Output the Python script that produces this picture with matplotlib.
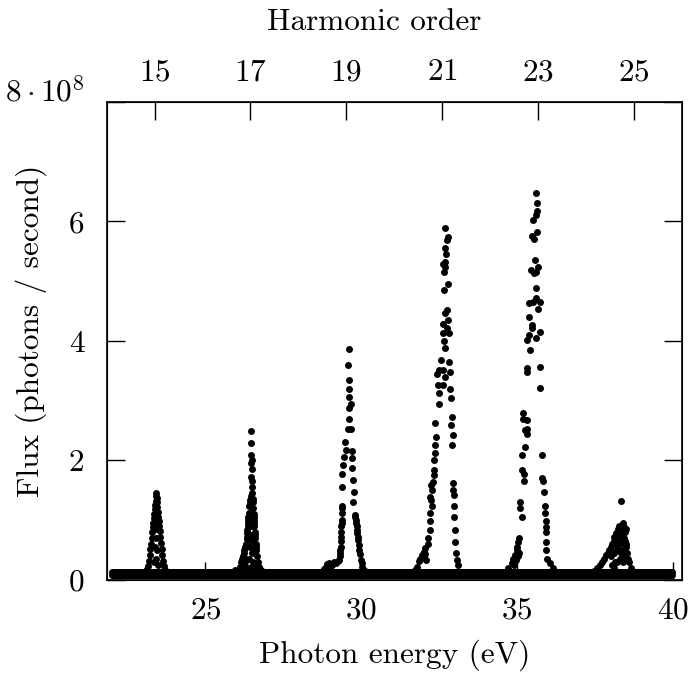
import matplotlib.pyplot as plt
import numpy as np

plt.rcParams["font.family"] = "serif"
plt.rcParams["font.serif"] = ["cmr10"]
plt.rcParams["mathtext.fontset"] = "cm"
plt.rcParams["axes.formatter.use_mathtext"] = True

# photon energy (eV) and flux (units of 1e8 photons / second)
baseline_levels = [0.08, 0.14]
baseline_e = np.arange(22.0, 40.0, 0.025)

h15_e = [23.00, 23.05, 23.10, 23.13, 23.16, 23.19, 23.21, 23.23, 23.25, 23.27,
         23.29, 23.31, 23.32, 23.34, 23.35, 23.37, 23.38, 23.40, 23.41, 23.42,
         23.44, 23.45, 23.46, 23.48, 23.49, 23.50, 23.52, 23.53, 23.55, 23.57,
         23.59, 23.61, 23.63, 23.66, 23.70, 23.75, 23.80,
         23.40, 23.42, 23.44, 23.40, 23.38, 23.46, 23.42, 23.36, 23.48]
h15_f = [0.12, 0.13, 0.15, 0.18, 0.24, 0.32, 0.42, 0.52, 0.60, 0.70,
         0.80, 0.88, 0.96, 1.03, 1.10, 1.18, 1.25, 1.33, 1.40, 1.45,
         1.38, 1.30, 1.22, 1.14, 1.06, 0.98, 0.90, 0.82, 0.72, 0.62,
         0.52, 0.42, 0.32, 0.24, 0.17, 0.13, 0.12,
         1.10, 0.95, 0.85, 0.70, 0.55, 0.50, 0.35, 0.30, 0.25]

h17_e = [26.46, 26.46, 26.47, 26.48, 26.46, 26.49, 26.47, 26.50, 26.48, 26.50,
         26.46, 26.42, 26.52, 26.40, 26.53, 26.44, 26.51,
         26.38, 26.37, 26.36, 26.355, 26.35, 26.345, 26.34, 26.335, 26.33, 26.31,
         26.28, 26.25, 26.22, 26.20, 26.16, 26.14, 26.10, 26.05, 25.98, 25.95, 25.90,
         26.55, 26.555, 26.56, 26.565, 26.57, 26.58, 26.59, 26.60, 26.61, 26.62,
         26.63, 26.65, 26.68, 26.72, 26.78, 26.85, 26.94,
         26.45, 26.47, 26.45, 26.50, 26.42, 26.48, 26.40, 26.52, 26.45, 26.50,
         26.30, 26.27, 26.23, 26.19, 26.40, 26.55, 26.66, 26.70]
h17_f = [2.49, 2.30, 2.09, 2.01, 1.95, 1.85, 1.73, 1.65, 1.55, 1.45,
         1.40, 1.34, 1.30, 1.23, 1.20, 1.28, 1.36,
         1.12, 1.05, 1.00, 0.95, 0.90, 0.84, 0.78, 0.72, 0.68, 0.60,
         0.55, 0.50, 0.45, 0.40, 0.35, 0.30, 0.22, 0.15, 0.13, 0.17, 0.12,
         1.10, 1.05, 1.00, 0.95, 0.90, 0.80, 0.75, 0.70, 0.60, 0.55,
         0.50, 0.40, 0.30, 0.22, 0.16, 0.13, 0.12,
         1.00, 0.90, 0.75, 0.65, 0.55, 0.45, 0.35, 0.30, 0.22, 0.18,
         0.35, 0.30, 0.25, 0.20, 0.20, 0.25, 0.22, 0.18]

h19_e = [29.60, 29.58, 29.60, 29.62, 29.60, 29.66, 29.60, 29.60, 29.66, 29.58,
         29.48, 29.50, 29.44, 29.71, 29.69, 29.41, 29.71, 29.39, 29.73, 29.39,
         29.77, 29.73, 29.39, 29.39, 29.37, 29.36, 29.36, 29.34, 29.31, 29.29,
         29.20, 29.07, 28.96, 28.86, 28.80, 28.75, 28.90, 29.00, 29.12,
         29.38, 29.37, 29.36, 29.35, 29.33, 29.30, 29.25,
         29.79, 29.84, 29.85, 29.87, 29.90, 29.94, 29.99, 30.03, 30.14,
         29.80, 29.83, 29.86, 29.88, 29.92, 29.96, 30.01, 30.08]
h19_f = [3.87, 3.60, 3.34, 3.20, 3.06, 2.95, 2.87, 2.70, 2.53, 2.53,
         2.31, 2.17, 2.06, 2.15, 2.04, 1.93, 1.87, 1.78, 1.67, 1.56,
         1.48, 1.31, 1.23, 1.20, 1.01, 0.90, 0.81, 0.56, 0.45, 0.34,
         0.28, 0.25, 0.28, 0.22, 0.18, 0.13, 0.26, 0.20, 0.30,
         1.12, 0.95, 0.72, 0.65, 0.50, 0.40, 0.32,
         1.09, 1.01, 0.90, 0.78, 0.67, 0.51, 0.34, 0.22, 0.14,
         1.05, 0.96, 0.84, 0.72, 0.59, 0.43, 0.28, 0.17]

h21_e = [32.69, 32.78, 32.74, 32.69, 32.72, 32.67, 32.62, 32.69, 32.64, 32.78,
         32.66, 32.74, 32.69, 32.78, 32.61, 32.74, 32.61, 32.64, 32.80, 32.69,
         32.56, 32.82, 32.48, 32.61, 32.85, 32.42, 32.69, 32.46, 32.61, 32.85,
         32.48, 32.88, 32.50, 32.37, 32.90, 32.88, 32.93, 32.39, 32.90, 32.37,
         32.35, 32.32, 32.32, 32.33, 32.29, 32.25, 32.27, 32.21, 32.25, 32.27,
         32.21, 32.21, 32.19, 32.14, 32.14, 32.05, 32.00, 31.95, 31.89, 31.84,
         31.79, 31.73, 32.02, 32.04, 32.06, 31.98,
         32.93, 32.93, 32.96, 32.96, 32.98, 33.01, 33.01, 33.04, 33.06, 33.09, 33.17]
h21_f = [5.88, 5.74, 5.68, 5.55, 5.46, 5.32, 5.28, 5.24, 5.15, 4.95,
         4.85, 4.51, 4.46, 4.35, 4.29, 4.21, 4.13, 3.99, 4.13, 3.88,
         3.68, 3.65, 3.51, 3.51, 3.48, 3.45, 3.40, 3.26, 3.26, 3.20,
         3.12, 3.04, 2.95, 2.62, 2.73, 2.59, 2.42, 2.39, 2.26, 2.26,
         2.12, 2.01, 1.84, 1.76, 1.64, 1.59, 1.50, 1.39, 1.34, 1.23,
         1.12, 0.98, 0.84, 0.70, 0.61, 0.53, 0.47, 0.42, 0.36, 0.31,
         0.22, 0.17, 0.38, 0.44, 0.34, 0.40,
         1.62, 1.50, 1.42, 1.23, 1.06, 0.84, 0.64, 0.45, 0.34, 0.25, 0.14]

h23_e = [35.62, 35.65, 35.63, 35.62, 35.51, 35.65, 35.49, 35.55, 35.57, 35.44,
         35.67, 35.62, 35.55, 35.60, 35.62, 35.39, 35.51, 35.73, 35.67, 35.39,
         35.49, 35.46, 35.73, 35.39, 35.33, 35.62, 35.42, 35.30, 35.33, 35.73,
         35.74, 35.19, 35.19, 35.30, 35.30, 35.25, 35.30, 35.25, 35.14, 35.80,
         35.14, 35.21, 35.80, 35.83, 35.23, 35.87, 35.09, 35.09, 35.14,
         35.89, 35.89, 35.91, 35.91, 35.91, 35.94, 35.94, 35.97, 36.05, 36.15,
         35.03, 34.98, 34.93, 34.87, 34.82, 34.72, 34.61,
         35.00, 35.05, 35.02, 34.95, 35.06, 34.90]
h23_f = [6.48, 6.31, 6.18, 6.10, 6.02, 5.82, 5.75, 5.71, 5.36, 5.18,
         5.24, 5.15, 5.13, 4.88, 4.71, 4.63, 4.65, 4.65, 4.54, 4.40,
         4.26, 4.21, 4.15, 4.10, 4.01, 4.04, 3.85, 3.54, 3.48, 3.57,
         3.21, 2.79, 2.70, 2.68, 2.53, 2.51, 2.45, 2.23, 2.09, 2.09,
         1.84, 1.78, 1.70, 1.65, 1.65, 1.48, 1.31, 1.20, 1.06,
         1.23, 1.12, 0.98, 0.89, 0.81, 0.64, 0.50, 0.36, 0.28, 0.20,
         0.64, 0.50, 0.42, 0.36, 0.28, 0.20, 0.14,
         0.55, 0.70, 0.40, 0.33, 0.45, 0.25]

h25_e = [37.45, 37.55, 37.65, 37.72, 37.80, 37.85, 37.90, 37.95, 38.00, 38.05,
         38.10, 38.12, 38.15, 38.18, 38.20, 38.22, 38.25, 38.28, 38.30, 38.32,
         38.34, 38.35, 38.38, 38.40, 38.42, 38.45, 38.48, 38.50, 38.52, 38.55,
         38.60, 38.65, 38.70, 38.80,
         38.00, 38.10, 38.20, 38.30, 38.40, 38.20, 38.30, 38.40, 38.05, 38.15,
         38.25, 38.35, 38.45, 38.50, 38.44, 38.38, 38.26, 38.47, 38.33, 38.10]
h25_f = [0.15, 0.20, 0.25, 0.30, 0.35, 0.42, 0.45, 0.50, 0.55, 0.60,
         0.65, 0.72, 0.60, 0.78, 0.70, 0.85, 0.75, 0.90, 0.80, 0.65,
         1.32, 0.92, 0.85, 0.95, 0.70, 0.80, 0.60, 0.55, 0.45, 0.35,
         0.30, 0.20, 0.15, 0.12,
         0.40, 0.45, 0.50, 0.50, 0.50, 0.30, 0.35, 0.30, 0.25, 0.30,
         0.60, 0.62, 0.65, 0.85, 0.88, 0.70, 0.62, 0.40, 0.45, 0.20]

peaks_e = [h15_e, h17_e, h19_e, h21_e, h23_e, h25_e]
peaks_f = [h15_f, h17_f, h19_f, h21_f, h23_f, h25_f]

energy = np.concatenate([baseline_e for _ in baseline_levels]
                        + [np.array(e) for e in peaks_e])
flux = np.concatenate([np.full(len(baseline_e), lv) for lv in baseline_levels]
                      + [np.array(f) for f in peaks_f]) * 1e8

FS = 22.5

fig = plt.figure(figsize=(6.96, 6.75), dpi=100)
ax = fig.add_axes([0.1533, 0.1407, 0.8262, 0.7086])
ax.plot(energy, flux, "o", color="black", markersize=5.0, markeredgewidth=0)

ax.set_xlim(21.83, 40.28)
ax.set_ylim(0, 8e8)
ax.set_xticks([25, 30, 35, 40])
ax.set_yticks([0, 2e8, 4e8, 6e8, 8e8])
ax.set_yticklabels(["0", "2", "4", "6", r"$8\cdot10^8$"])
ax.get_yticklabels()[-1].set_va("baseline")
ax.tick_params(direction="in", length=13, width=1.0, labelsize=FS,
               top=False, right=True)
ax.tick_params(axis="x", pad=12)
ax.tick_params(axis="y", pad=16)
ax.set_xlabel("Photon energy (eV)", fontsize=FS, va="center")
ax.xaxis.set_label_coords(0.5, -0.157)
ax.set_ylabel("Flux (photons / second)", fontsize=FS, va="center")
ax.yaxis.set_label_coords(-0.132, 0.52)
for s in ax.spines.values():
    s.set_linewidth(1.2)

ax2 = ax.twiny()
ax2.set_xlim(14, 26)
ax2.set_xticks([15, 17, 19, 21, 23, 25])
ax2.tick_params(direction="in", length=13, width=1.0, labelsize=FS, pad=11)
ax2.set_xlabel("Harmonic order", fontsize=FS, va="center")
ax2.xaxis.set_label_coords(0.465, 1.1667)

fig.savefig("out.png", dpi=100)
